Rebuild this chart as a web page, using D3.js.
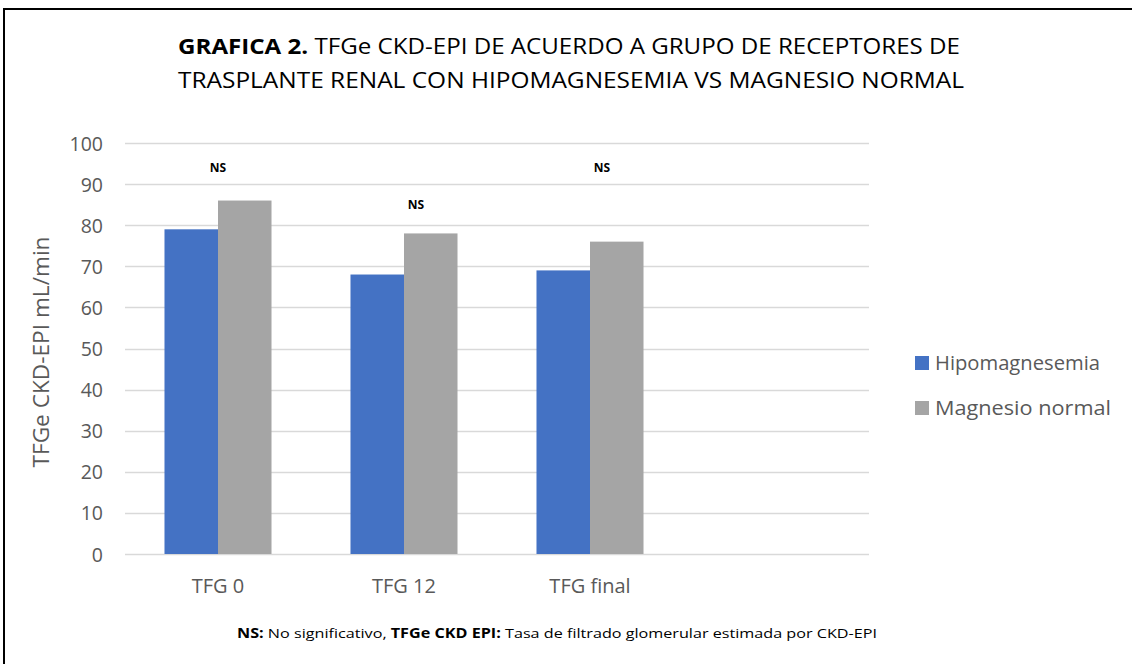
<!DOCTYPE html>
<html>
<head>
<meta charset="utf-8">
<script src="https://cdn.jsdelivr.net/npm/d3@7"></script>
<style>
  html, body { margin: 0; padding: 0; background: #fff; overflow: hidden; }
  svg { display: block; }
  text { font-family: "Open Sans", "Noto Sans", sans-serif; }
</style>
</head>
<body>
<svg id="chart" width="1132" height="664"></svg>
<script>
// ---- data ----
const categories = ["TFG 0", "TFG 12", "TFG final", ""];
const seriesNames = ["Hipomagnesemia", "Magnesio normal"];
const hipomagnesemia = [79, 68, 69];
const magnesioNormal = [86, 78, 76];
const yTicks = [0, 10, 20, 30, 40, 50, 60, 70, 80, 90, 100];
const nsLabels = ["NS", "NS", "NS"];
const nsValues = [93, 84, 93];
const colors = ["#4472C4", "#A5A5A5"];

(function () {
const svg = d3.select("#chart");
const W = 1132, H = 664;
svg.append("rect").attr("width", W).attr("height", H).attr("fill", "#fff");

// outer border (only top and left edges visible in the crop)
svg.append("path").attr("d", `M4,${H} L4,9 L${W},9`)
  .attr("fill", "none").attr("stroke", "#000").attr("stroke-width", 2);

// scales
const pLeft = 125, pRight = 869, pTop = 143, pBottom = 554;
const y = d3.scaleLinear().domain([0, 100]).range([pBottom, pTop]);
const x0 = d3.scaleBand().domain(categories).range([pLeft, pRight]).paddingInner(0).paddingOuter(0);
const x1 = d3.scaleBand().domain(seriesNames).range([0, x0.bandwidth()]).paddingInner(0).paddingOuter(0.738);

// gridlines
svg.append("g").selectAll("line").data(yTicks).join("line")
  .attr("x1", pLeft).attr("x2", pRight)
  .attr("y1", d => Math.round(y(d)) + 0.5).attr("y2", d => Math.round(y(d)) + 0.5)
  .attr("stroke", "#D9D9D9").attr("stroke-width", 1.3);

// y axis tick labels
const yAxis = d3.axisLeft(y).tickValues(yTicks).tickSize(0).tickPadding(0);
const gy = svg.append("g").attr("transform", `translate(103,0)`).call(yAxis);
gy.select(".domain").remove();
gy.selectAll("text").attr("font-size", 19.5).attr("fill", "#595959")
  .attr("font-family", '"Open Sans", sans-serif').attr("dy", "0.36em");

// x axis labels
const xAxis = d3.axisBottom(x0).tickSize(0).tickPadding(0);
const gx = svg.append("g").attr("transform", `translate(0,${pBottom})`).call(xAxis);
gx.select(".domain").remove();
gx.selectAll("text").attr("font-size", 20).attr("fill", "#595959")
  .attr("font-family", '"Open Sans", sans-serif').attr("dy", null).attr("y", 39);

// bars
const rows = categories.slice(0, 3).map((c, i) => ({ cat: c, vals: [hipomagnesemia[i], magnesioNormal[i]] }));
const groups = svg.append("g").selectAll("g").data(rows).join("g")
  .attr("transform", d => `translate(${x0(d.cat)},0)`);
groups.selectAll("rect").data(d => d.vals.map((v, j) => ({ s: seriesNames[j], v, j }))).join("rect")
  .attr("x", d => x1(d.s)).attr("width", x1.bandwidth())
  .attr("y", d => y(d.v)).attr("height", d => y(0) - y(d.v))
  .attr("fill", d => colors[d.j]);

// NS annotations
const nsShift = [0, 12, 12];
svg.append("g").selectAll("text").data(nsLabels).join("text")
  .attr("x", (d, i) => x0(categories[i]) + x0.bandwidth() / 2 + nsShift[i])
  .attr("y", (d, i) => y(nsValues[i]))
  .attr("text-anchor", "middle").attr("font-size", 12).attr("font-weight", "bold")
  .attr("fill", "#000").text(d => d);

// y axis title
svg.append("text")
  .attr("transform", "translate(49,352) rotate(-90)")
  .attr("text-anchor", "middle").attr("font-size", 21.5).attr("fill", "#595959")
  .attr("textLength", 231).attr("lengthAdjust", "spacingAndGlyphs")
  .text("TFGe CKD-EPI mL/min");

// legend
const lg = svg.append("g").selectAll("g").data(seriesNames).join("g")
  .attr("transform", (d, i) => `translate(915,${356 + i * 45})`);
lg.append("rect").attr("width", 14).attr("height", 14).attr("fill", (d, i) => colors[i]);
lg.append("text").attr("x", 20).attr("y", 14).attr("font-size", 20).attr("fill", "#595959")
  .attr("textLength", (d, i) => i === 0 ? 165 : 176).attr("lengthAdjust", "spacingAndGlyphs")
  .text(d => d);

// title
const t1 = svg.append("text").attr("x", 178).attr("y", 54).attr("font-size", 21.5).attr("fill", "#000")
  .attr("textLength", 782).attr("lengthAdjust", "spacingAndGlyphs");
t1.append("tspan").attr("font-weight", "bold").text("GRAFICA 2.");
t1.append("tspan").text(" TFGe CKD-EPI DE ACUERDO A GRUPO DE RECEPTORES DE");
svg.append("text").attr("x", 178).attr("y", 88).attr("font-size", 21.5).attr("fill", "#000")
  .attr("textLength", 786).attr("lengthAdjust", "spacingAndGlyphs")
  .text("TRASPLANTE RENAL CON HIPOMAGNESEMIA VS MAGNESIO NORMAL");

// footnote
const fn = svg.append("text").attr("x", 237).attr("y", 638).attr("font-size", 13.5).attr("fill", "#000")
  .attr("textLength", 640).attr("lengthAdjust", "spacingAndGlyphs");
fn.append("tspan").attr("font-weight", "bold").text("NS:");
fn.append("tspan").text(" No significativo, ");
fn.append("tspan").attr("font-weight", "bold").text("TFGe CKD EPI:");
fn.append("tspan").text(" Tasa de filtrado glomerular estimada por CKD-EPI");
})();
</script>
</body>
</html>
